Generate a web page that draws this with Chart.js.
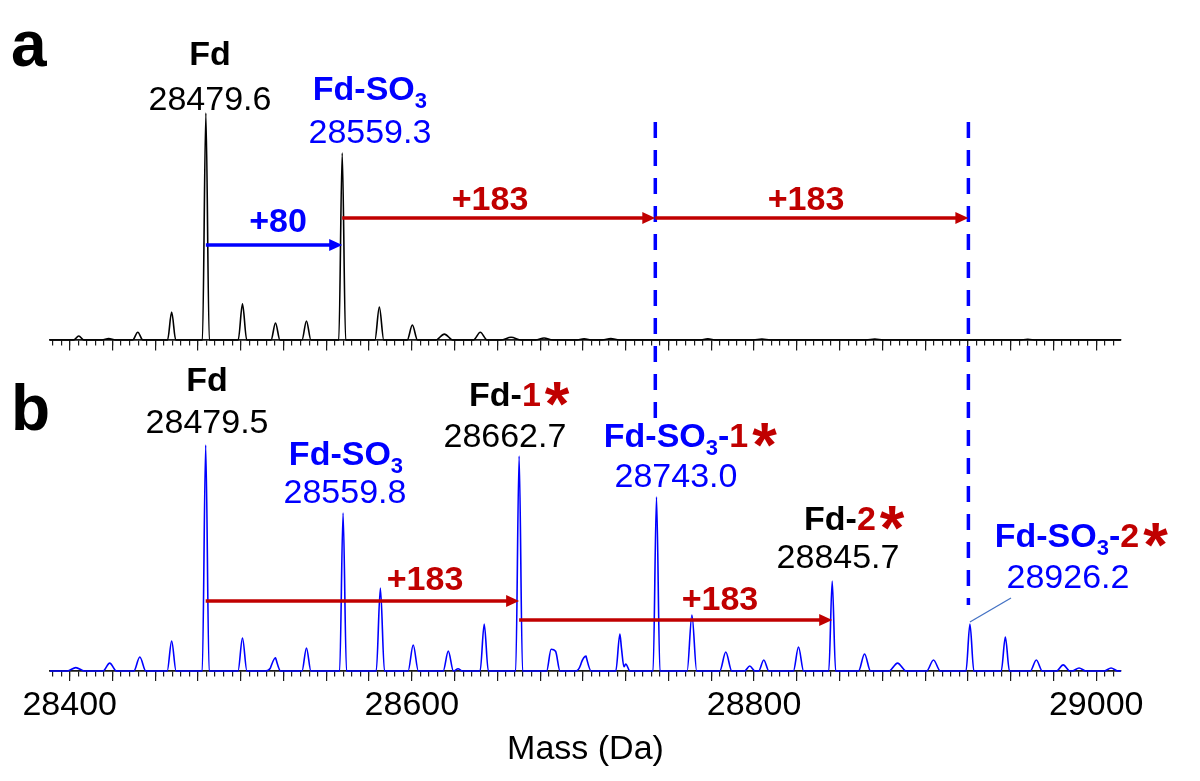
<!DOCTYPE html>
<html>
<head>
<meta charset="utf-8">
<title>Fd mass spectra</title>
<script src="https://cdn.jsdelivr.net/npm/chart.js@4.4.1/dist/chart.umd.min.js"></script>
<style>
  html, body { margin: 0; padding: 0; background: #fff; }
  #wrap { position: relative; width: 1200px; height: 781px; }
</style>
</head>
<body>
<div id="wrap"><canvas id="spectra"></canvas></div>
<script>
// panel a - peak list (mass in Da, intensity relative to Fd = 100, base half-width in Da)
const massA = [28405.3, 28422.8, 28439.8, 28459.6, 28479.6, 28501.0, 28520.3, 28538.4, 28559.3, 28581.0,
  28600.3, 28619.0, 28640.0, 28658.0, 28677.3, 28700.7, 28716.3, 28773.0, 28804.6, 28870.6, 28960.0];
const intensityA = [1.8, 0.6, 3.4, 12.3, 100, 15.9, 7.5, 8.4, 82.4, 14.5,
  6.6, 2.6, 3.4, 1.2, 0.9, 0.5, 0.6, 0.5, 0.4, 0.4, 0.3];
const widthA = [3, 4, 3, 2.4, 2.0, 2.5, 2.6, 2.6, 2.0, 2.6,
  3, 5, 4, 6, 5, 5, 5, 5, 5, 5, 5];

// panel b - peak list after modification
const massB = [28403.6, 28423.4, 28441.0, 28459.6, 28479.5, 28501.0, 28517.4, 28520.3, 28538.4, 28559.8,
  28581.6, 28600.8, 28621.3, 28627.0, 28642.3, 28662.7, 28681.4, 28684.0, 28698.9, 28701.8,
  28721.6, 28725.0, 28743.0, 28763.7, 28783.5, 28797.5, 28805.7, 28826.0, 28845.7, 28864.6,
  28883.9, 28904.9, 28926.2, 28946.9, 28965.0, 28980.7, 28990.0, 29008.7];
const intensityB = [1.5, 3.5, 6.2, 13.3, 100, 14.6, 1.3, 5.8, 10.2, 69.9,
  36.7, 11.5, 8.8, 1.0, 20.8, 95.1, 9.6, 8.7, 3.1, 6.5,
  16.4, 3.1, 77.0, 24.8, 8.4, 2.2, 4.9, 10.6, 39.8, 7.5,
  3.5, 4.9, 20.8, 15.0, 4.9, 2.7, 1.3, 1.3];
const widthB = [5, 4, 3.5, 2.6, 2.0, 2.6, 3, 3, 2.6, 2.0,
  2.4, 3, 3, 2.5, 2.4, 2.0, 2.6, 2.6, 3, 3,
  2.4, 2.5, 2.0, 2.8, 3.5, 3, 3, 3, 2.0, 3.5,
  5, 4, 2.3, 2.4, 3.5, 4, 4, 4];

const tickLabels = [28400, 28600, 28800, 29000];

const X_MIN = 28388.5, X_MAX = 29014.5;
const FONT = '"Liberation Sans", Arial, sans-serif';
const BLUE = 'rgb(0,0,255)';
const RED = 'rgb(192,0,0)';
const BLACK = '#000';
const AXIS = '#1a1a1a';

// peak list -> polyline through feet and apexes (overlapping peaks add up)
function profile(mass, inten, width) {
  const xs = [X_MIN, X_MAX];
  mass.forEach((m, i) => xs.push(m - width[i], m, m + width[i]));
  xs.sort((a, b) => a - b);
  return xs.filter((x, i) => i === 0 || x !== xs[i - 1]).map(x => ({
    x: x,
    y: mass.reduce((s, m, i) => s + inten[i] * Math.max(0, 1 - Math.abs(x - m) / width[i]), 0)
  }));
}

// text annotations (x in Da, y in the panel's intensity units)
const notes = [
  { axis: 'yA', x: 28482.0, y: 121.1, bold: true, parts: [['Fd', BLACK]] },
  { axis: 'yA', x: 28482.0, y: 101.3, parts: [['28479.6', BLACK]] },
  { axis: 'yA', x: 28575.5, y: 105.7, bold: true, parts: [['Fd-SO', BLUE], ['3', BLUE, 'sub']] },
  { axis: 'yA', x: 28575.5, y: 86.8, parts: [['28559.3', BLUE]] },
  { axis: 'yA', x: 28521.8, y: 47.6, bold: true, parts: [['+80', BLUE]] },
  { axis: 'yA', x: 28645.7, y: 57.3, bold: true, parts: [['+183', RED]] },
  { axis: 'yA', x: 28830.4, y: 57.3, bold: true, parts: [['+183', RED]] },

  { axis: 'yB', x: 28480.3, y: 123.9, bold: true, parts: [['Fd', BLACK]] },
  { axis: 'yB', x: 28480.3, y: 105.3, parts: [['28479.5', BLACK]] },
  { axis: 'yB', x: 28561.5, y: 91.2, bold: true, parts: [['Fd-SO', BLUE], ['3', BLUE, 'sub']] },
  { axis: 'yB', x: 28560.9, y: 74.3, parts: [['28559.8', BLUE]] },
  { axis: 'yB', x: 28654.4, y: 117.3, bold: true, star: true, parts: [['Fd-', BLACK], ['1', RED]] },
  { axis: 'yB', x: 28654.4, y: 99.1, parts: [['28662.7', BLACK]] },
  { axis: 'yB', x: 28754.4, y: 99.1, bold: true, star: true, parts: [['Fd-SO', BLUE], ['3', BLUE, 'sub'], ['-', BLUE], ['1', RED]] },
  { axis: 'yB', x: 28754.4, y: 81.4, parts: [['28743.0', BLUE]] },
  { axis: 'yB', x: 28850.2, y: 62.4, bold: true, star: true, parts: [['Fd-', BLACK], ['2', RED]] },
  { axis: 'yB', x: 28849.1, y: 45.6, parts: [['28845.7', BLACK]] },
  { axis: 'yB', x: 28982.9, y: 54.9, bold: true, star: true, parts: [['Fd-SO', BLUE], ['3', BLUE, 'sub'], ['-', BLUE], ['2', RED]] },
  { axis: 'yB', x: 28983.5, y: 36.7, parts: [['28926.2', BLUE]] },
  { axis: 'yB', x: 28607.7, y: 35.8, bold: true, parts: [['+183', RED]] },
  { axis: 'yB', x: 28780.1, y: 27.0, bold: true, parts: [['+183', RED]] },
];

const arrows = [
  { axis: 'yA', from: 28479.6, to: 28559.3, y: 41.9, color: BLUE },
  { axis: 'yA', from: 28559.3, to: 28742.3, y: 53.7, color: RED },
  { axis: 'yA', from: 28742.3, to: 28925.3, y: 53.7, color: RED },
  { axis: 'yB', from: 28479.5, to: 28662.7, y: 31.0, color: RED },
  { axis: 'yB', from: 28662.7, to: 28845.7, y: 22.6, color: RED },
];

// dashed guides run from panel a down into panel b
const guides = [
  { x: 28742.3, fromA: 96, toB: 111.9 },
  { x: 28925.3, fromA: 96, toB: 29.2 },
];

function drawNote(ctx, n, cx, y) {
  const main = (n.bold ? 'bold ' : '') + '34px ' + FONT;
  const sub = 'bold 22px ' + FONT;
  let w = 0;
  n.parts.forEach(p => { ctx.font = p[2] ? sub : main; w += ctx.measureText(p[0]).width; });
  let x = cx - w / 2;
  ctx.textAlign = 'left';
  ctx.textBaseline = 'alphabetic';
  n.parts.forEach(p => {
    ctx.font = p[2] ? sub : main;
    ctx.fillStyle = p[1];
    ctx.fillText(p[0], x, y + (p[2] ? 8 : 0));
    x += ctx.measureText(p[0]).width;
  });
  if (n.star) {
    ctx.font = 'bold 100px ' + FONT;
    const m0 = ctx.measureText('*');
    const size = 100 * 24 / (m0.actualBoundingBoxAscent + m0.actualBoundingBoxDescent);
    ctx.font = 'bold ' + size.toFixed(1) + 'px ' + FONT;
    const m = ctx.measureText('*');
    const mid = (m.actualBoundingBoxAscent - m.actualBoundingBoxDescent) / 2;
    ctx.fillStyle = RED;
    ctx.fillText('*', x + 4 + m.actualBoundingBoxLeft, y - 12 + mid);
  }
}

const annotate = {
  id: 'annotate',
  afterDatasetsDraw(chart) {
    const { ctx, scales } = chart;
    const X = v => scales.x.getPixelForValue(v);
    ctx.save();

    // dashed guides
    ctx.strokeStyle = BLUE;
    ctx.lineWidth = 3.5;
    ctx.setLineDash([16, 12]);
    guides.forEach(g => {
      ctx.beginPath();
      ctx.moveTo(X(g.x), scales.yA.getPixelForValue(g.fromA));
      ctx.lineTo(X(g.x), scales.yB.getPixelForValue(g.toB));
      ctx.stroke();
    });
    ctx.setLineDash([]);

    // arrows
    arrows.forEach(a => {
      const x1 = X(a.from), x2 = X(a.to), y = scales[a.axis].getPixelForValue(a.y);
      ctx.strokeStyle = a.color;
      ctx.fillStyle = a.color;
      ctx.lineWidth = 3.5;
      ctx.beginPath();
      ctx.moveTo(x1, y);
      ctx.lineTo(x2 - 10, y);
      ctx.stroke();
      ctx.beginPath();
      ctx.moveTo(x2, y);
      ctx.lineTo(x2 - 13, y - 6);
      ctx.lineTo(x2 - 13, y + 6);
      ctx.closePath();
      ctx.fill();
    });

    // leader line to the Fd-SO3-2 peak
    ctx.strokeStyle = 'rgb(68,114,196)';
    ctx.lineWidth = 1.3;
    ctx.beginPath();
    ctx.moveTo(X(28926.2), scales.yB.getPixelForValue(21.7));
    ctx.lineTo(X(28950.2), scales.yB.getPixelForValue(32.3));
    ctx.stroke();

    notes.forEach(n => drawNote(ctx, n, X(n.x), scales[n.axis].getPixelForValue(n.y)));

    // panel letters
    ctx.font = 'bold 64px ' + FONT;
    ctx.fillStyle = BLACK;
    ctx.textAlign = 'left';
    ctx.textBaseline = 'alphabetic';
    ctx.fillText('a', 11, 66);
    ctx.fillText('b', 11, 430);
    ctx.restore();
  }
};

const tickAxis = (anchor, step, len) => ({
  type: 'linear',
  axis: 'x',
  position: anchor,
  min: X_MIN,
  max: X_MAX,
  border: { display: true, color: AXIS, width: 1.5 },
  grid: { drawOnChartArea: false, drawTicks: true, tickLength: len, color: AXIS, lineWidth: 1.2 },
  ticks: { display: false, stepSize: step, includeBounds: false }
});

new Chart(document.getElementById('spectra'), {
  type: 'line',
  data: {
    datasets: [
      {
        label: 'a',
        data: profile(massA, intensityA, widthA),
        xAxisID: 'x',
        yAxisID: 'yA',
        borderColor: BLACK,
        borderWidth: 1.6,
        pointRadius: 0,
        fill: false,
        cubicInterpolationMode: 'monotone',
        clip: false
      },
      {
        label: 'b',
        data: profile(massB, intensityB, widthB),
        xAxisID: 'x',
        yAxisID: 'yB',
        borderColor: BLUE,
        borderWidth: 1.6,
        pointRadius: 0,
        fill: false,
        cubicInterpolationMode: 'monotone',
        clip: false
      }
    ]
  },
  options: {
    responsive: true,
    maintainAspectRatio: false,
    animation: false,
    layout: { padding: { left: 50, right: 79, top: 113, bottom: 0 } },
    plugins: { legend: { display: false }, tooltip: { enabled: false } },
    scales: {
      x: {
        type: 'linear',
        position: 'bottom',
        min: X_MIN,
        max: X_MAX,
        afterFit: s => { s.height = 110; },
        border: { display: true, color: AXIS, width: 1.5 },
        grid: { drawOnChartArea: false, tickLength: 10, color: AXIS, lineWidth: 1.2 },
        ticks: {
          stepSize: 25,
          includeBounds: false,
          autoSkip: false,
          maxRotation: 0,
          padding: 4,
          color: BLACK,
          font: { family: FONT, size: 34 },
          callback: v => (tickLabels.includes(v) ? String(v) : '')
        },
        title: {
          display: true,
          text: 'Mass (Da)',
          color: BLACK,
          font: { family: FONT, size: 34 },
          padding: { top: 0, bottom: 11 }
        }
      },
      xBm: tickAxis({ yB: 0 }, 5, 5),
      xA: tickAxis({ yA: 0 }, 25, 10),
      xAm: tickAxis({ yA: 0 }, 5, 5),
      // two stacked panels: a has its baseline at y=340, b at the chart bottom (671)
      yA: { type: 'linear', display: false, min: -145.8, max: 100 },
      yB: { type: 'linear', display: false, min: 0, max: 246.9 }
    }
  },
  plugins: [annotate]
});
</script>
</body>
</html>
